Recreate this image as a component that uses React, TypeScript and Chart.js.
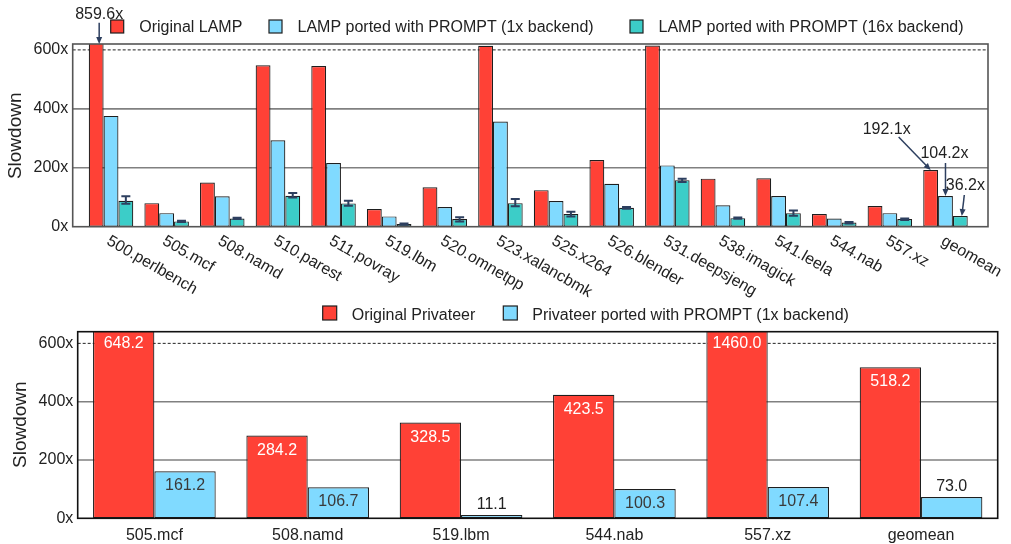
import React, { useEffect, useRef } from "react";
import { Chart, registerables } from "chart.js";

Chart.register(...registerables);

const FONT = "'Liberation Sans', Arial, Helvetica, sans-serif";
const RED = "#FF4136";
const BLUE = "#80DAFF";
const TEAL = "#3CCDC8";
const EDGE = "#1e1e1e";
const TEXT = "#222222";
const ERR = "#2d3f5f";

// ---------------- top chart data ----------------
const lampCategories = [
  "500.perlbench", "505.mcf", "508.namd", "510.parest", "511.povray", "519.lbm",
  "520.omnetpp", "523.xalancbmk", "525.x264", "526.blender", "531.deepsjeng",
  "538.imagick", "541.leela", "544.nab", "557.xz", "geomean",
];
const lampSeriesNames = [
  "Original LAMP",
  "LAMP ported with PROMPT (1x backend)",
  "LAMP ported with PROMPT (16x backend)",
];
const lampOriginal = [859.6, 80, 150, 548, 545, 60, 134, 614, 124, 226, 615, 163, 164, 43, 70, 192.1];
const lampPrompt1x = [376, 46, 103, 293, 216, 35, 67, 357, 87, 146, 208, 73, 104, 28, 46, 104.2];
const lampPrompt16x = [88, 18, 28, 105, 79, 9, 26, 80, 43, 64, 158, 29, 46, 14, 26, 36.2];
const lampErrLow = [78, 16, 26, 99, 71, 7, 18, 69, 35, 61, 152, 27, 37, 11, 23, null];
const lampErrHigh = [103, 20, 30, 114, 88, 11, 32, 94, 51, 67, 163, 31, 55, 16, 28, null];
const lampYTicks = [0, 200, 400, 600];
const lampYMax = 620;
const lampCallouts = [
  { dataset: 0, index: 0, text: "859.6x" },
  { dataset: 0, index: 15, text: "192.1x" },
  { dataset: 1, index: 15, text: "104.2x" },
  { dataset: 2, index: 15, text: "36.2x" },
];

// ---------------- bottom chart data ----------------
const privCategories = ["505.mcf", "508.namd", "519.lbm", "544.nab", "557.xz", "geomean"];
const privSeriesNames = ["Original Privateer", "Privateer ported with PROMPT (1x backend)"];
const privOriginal = [648.2, 284.2, 328.5, 423.5, 1460.0, 518.2];
const privPrompt1x = [161.2, 106.7, 11.1, 100.3, 107.4, 73.0];
const privYTicks = [0, 200, 400, 600];
const privYMax = 640;

// ---------------- layout (not data) ----------------
const calloutGeom = [
  { hx: 3, tx: 3, ty: -21.3, lx: 3, ly: -31 },
  { hx: 0, tx: -32, ty: -33, lx: -44, ly: -42.3 },
  { hx: 0, tx: 0, ty: -33, lx: -1, ly: -43.3 },
  { hx: 1.5, tx: 4, ty: -21, lx: 5, ly: -31.7 },
];

function drawGrid(chart: any, ticks: number[], left: number, right: number) {
  const ctx = chart.ctx;
  const y = chart.scales.y;
  ctx.save();
  ticks.forEach((t) => {
    if (t === 0) return;
    const py = y.getPixelForValue(t);
    ctx.beginPath();
    if (t === 600) {
      ctx.setLineDash([3, 2]);
      ctx.strokeStyle = "#222";
      ctx.lineWidth = 1;
    } else {
      ctx.setLineDash([]);
      ctx.strokeStyle = "#808080";
      ctx.lineWidth = 1.6;
    }
    ctx.moveTo(left, py);
    ctx.lineTo(right, py);
    ctx.stroke();
  });
  ctx.restore();
}

function drawFrame(chart: any, left: number, right: number, color: string) {
  const ctx = chart.ctx;
  const a = chart.chartArea;
  ctx.save();
  ctx.setLineDash([]);
  ctx.strokeStyle = color;
  ctx.lineWidth = 1.6;
  ctx.strokeRect(left, a.top, right - left, a.bottom - a.top);
  ctx.restore();
}

function drawLegend(
  chart: any, names: string[], colors: string[], xs: number[],
  boxY: number, size: number, textOff: number, baseline: number
) {
  const ctx = chart.ctx;
  ctx.save();
  ctx.font = `16px ${FONT}`;
  ctx.textAlign = "left";
  ctx.textBaseline = "alphabetic";
  names.forEach((n, i) => {
    ctx.fillStyle = colors[i];
    ctx.fillRect(xs[i], boxY, size, size);
    ctx.strokeStyle = EDGE;
    ctx.lineWidth = 1.2;
    ctx.strokeRect(xs[i], boxY, size, size);
    ctx.fillStyle = TEXT;
    ctx.fillText(n, xs[i] + textOff, baseline);
  });
  ctx.restore();
}

function drawYTitle(chart: any, text: string, baseX: number, cy: number) {
  const ctx = chart.ctx;
  ctx.save();
  ctx.translate(baseX, cy);
  ctx.rotate(-Math.PI / 2);
  ctx.font = `19px ${FONT}`;
  ctx.fillStyle = TEXT;
  ctx.textAlign = "center";
  ctx.textBaseline = "alphabetic";
  ctx.fillText(text, 0, 0);
  ctx.restore();
}

function drawArrow(ctx: any, x0: number, y0: number, x1: number, y1: number) {
  const ang = Math.atan2(y1 - y0, x1 - x0);
  const len = 7;
  const hw = 3;
  ctx.beginPath();
  ctx.moveTo(x0, y0);
  ctx.lineTo(x1 - Math.cos(ang) * len * 0.6, y1 - Math.sin(ang) * len * 0.6);
  ctx.stroke();
  ctx.beginPath();
  ctx.moveTo(x1, y1);
  ctx.lineTo(x1 - Math.cos(ang) * len + Math.sin(ang) * hw, y1 - Math.sin(ang) * len - Math.cos(ang) * hw);
  ctx.lineTo(x1 - Math.cos(ang) * len - Math.sin(ang) * hw, y1 - Math.sin(ang) * len + Math.cos(ang) * hw);
  ctx.closePath();
  ctx.fill();
}

const TOP_FRAME_L = 72.7;
const TOP_FRAME_R = 988;

const topPlugin = {
  id: "topDecor",
  beforeDatasetsDraw(chart: any) {
    drawGrid(chart, lampYTicks, TOP_FRAME_L, TOP_FRAME_R);
  },
  afterDatasetsDraw(chart: any) {
    const ctx = chart.ctx;
    const y = chart.scales.y;
    const meta = chart.getDatasetMeta(2);
    ctx.save();
    ctx.strokeStyle = ERR;
    ctx.lineWidth = 2;
    lampErrLow.forEach((lo, i) => {
      const hi = lampErrHigh[i];
      if (lo == null || hi == null) return;
      const bx = (meta.data[i] as any).x;
      const pl = y.getPixelForValue(lo);
      const ph = y.getPixelForValue(hi);
      ctx.beginPath();
      ctx.moveTo(bx, pl);
      ctx.lineTo(bx, ph);
      ctx.moveTo(bx - 4.5, pl);
      ctx.lineTo(bx + 4.5, pl);
      ctx.moveTo(bx - 4.5, ph);
      ctx.lineTo(bx + 4.5, ph);
      ctx.stroke();
    });
    ctx.restore();
  },
  afterDraw(chart: any) {
    const ctx = chart.ctx;
    const a = chart.chartArea;
    drawFrame(chart, TOP_FRAME_L, TOP_FRAME_R, "#555");
    // x labels rotated
    const x = chart.scales.x;
    ctx.save();
    ctx.font = `16px ${FONT}`;
    ctx.fillStyle = TEXT;
    lampCategories.forEach((c, i) => {
      const px = x.getPixelForValue(i);
      ctx.save();
      ctx.translate(px + 1, 233);
      ctx.rotate((30 * Math.PI) / 180);
      ctx.textAlign = "left";
      ctx.textBaseline = "top";
      ctx.fillText(c, 0, 0);
      ctx.restore();
    });
    ctx.restore();
    drawYTitle(chart, "Slowdown", 20.7, 135.8);
    drawLegend(chart, lampSeriesNames, [RED, BLUE, TEAL], [110.7, 269, 630], 20, 13, 28.5, 31.5);
    // callouts
    ctx.save();
    ctx.font = `16px ${FONT}`;
    ctx.strokeStyle = ERR;
    ctx.fillStyle = ERR;
    ctx.lineWidth = 1.5;
    lampCallouts.forEach((c, k) => {
      const g = calloutGeom[k];
      const bar = chart.getDatasetMeta(c.dataset).data[c.index] as any;
      const bx = bar.x;
      const by = Math.max(bar.y, a.top);
      ctx.strokeStyle = ERR;
      ctx.fillStyle = ERR;
      drawArrow(ctx, bx + g.tx, by + g.ty, bx + g.hx, by);
      ctx.fillStyle = TEXT;
      ctx.textAlign = "center";
      ctx.textBaseline = "alphabetic";
      ctx.fillText(c.text, bx + g.lx, by + g.ly + 5.8);
    });
    ctx.restore();
  },
};

const bottomPlugin = {
  id: "bottomDecor",
  beforeDatasetsDraw(chart: any) {
    const a = chart.chartArea;
    drawGrid(chart, privYTicks, a.left, a.right);
  },
  afterDatasetsDraw(chart: any) {
    const ctx = chart.ctx;
    const a = chart.chartArea;
    ctx.save();
    ctx.font = `16px ${FONT}`;
    ctx.textAlign = "center";
    ctx.textBaseline = "alphabetic";
    [privOriginal, privPrompt1x].forEach((vals, d) => {
      const meta = chart.getDatasetMeta(d);
      vals.forEach((v, i) => {
        const bar = meta.data[i] as any;
        let cy: number;
        let color: string;
        if (bar.y <= a.top) {
          cy = a.top + 10;
          color = d === 0 ? "#ffffff" : "#333";
        } else if (bar.base - bar.y > 25) {
          cy = bar.y + 13.3;
          color = d === 0 ? "#ffffff" : "#3a3a3a";
        } else {
          cy = bar.y - 12;
          color = TEXT;
        }
        ctx.fillStyle = color;
        ctx.fillText(v.toFixed(1), bar.x, cy + 5.8);
      });
    });
    ctx.restore();
  },
  afterDraw(chart: any) {
    const ctx = chart.ctx;
    const a = chart.chartArea;
    drawFrame(chart, a.left, a.right, "#111");
    const x = chart.scales.x;
    ctx.save();
    ctx.font = `16px ${FONT}`;
    ctx.fillStyle = TEXT;
    ctx.textAlign = "center";
    ctx.textBaseline = "alphabetic";
    privCategories.forEach((c, i) => {
      ctx.fillText(c, x.getPixelForValue(i), 240);
    });
    ctx.restore();
    drawYTitle(chart, "Slowdown", 26, 124.7);
    drawLegend(chart, privSeriesNames, [RED, BLUE], [322.7, 503.3], 6, 14, 29, 19.5);
  },
};

function barDataset(label: string, data: number[], color: string) {
  return {
    label,
    data,
    backgroundColor: color,
    borderColor: EDGE,
    borderWidth: 1.2,
    borderSkipped: false as const,
    categoryPercentage: 0.8,
    barPercentage: 1.0,
  };
}

function yAxis(max: number, ticks: number[], width: number, padding: number) {
  return {
    min: 0,
    max,
    afterBuildTicks: (s: any) => {
      s.ticks = ticks.map((v) => ({ value: v }));
    },
    afterFit: (s: any) => {
      s.width = width;
    },
    ticks: {
      callback: (v: any) => `${v}x`,
      font: { size: 16, family: FONT },
      color: TEXT,
      padding,
    },
    grid: { display: false, drawTicks: false },
    border: { display: false },
  };
}

export default function App() {
  const topRef = useRef<HTMLCanvasElement>(null);
  const botRef = useRef<HTMLCanvasElement>(null);

  useEffect(() => {
    const top = new Chart(topRef.current as HTMLCanvasElement, {
      type: "bar",
      data: {
        labels: lampCategories,
        datasets: [
          barDataset(lampSeriesNames[0], lampOriginal, RED),
          barDataset(lampSeriesNames[1], lampPrompt1x, BLUE),
          barDataset(lampSeriesNames[2], lampPrompt16x, TEAL),
        ],
      },
      options: {
        responsive: false,
        maintainAspectRatio: false,
        animation: false,
        layout: { padding: { left: 0, right: 37.7, top: 44, bottom: 73.3 } },
        plugins: { legend: { display: false }, tooltip: { enabled: false } },
        scales: {
          x: { display: false },
          y: yAxis(lampYMax, lampYTicks, 83.2, 15) as any,
        },
      },
      plugins: [topPlugin],
    });

    const bottom = new Chart(botRef.current as HTMLCanvasElement, {
      type: "bar",
      data: {
        labels: privCategories,
        datasets: [
          barDataset(privSeriesNames[0], privOriginal, RED),
          barDataset(privSeriesNames[1], privPrompt1x, BLUE),
        ],
      },
      options: {
        responsive: false,
        maintainAspectRatio: false,
        animation: false,
        layout: { padding: { left: 0, right: 13.3, top: 31.7, bottom: 25.7 } },
        plugins: { legend: { display: false }, tooltip: { enabled: false } },
        scales: {
          x: { display: false },
          y: yAxis(privYMax, privYTicks, 77.7, 4.4) as any,
        },
      },
      plugins: [bottomPlugin],
    });

    return () => {
      top.destroy();
      bottom.destroy();
    };
  }, []);

  return (
    <div style={{ position: "absolute", left: 0, top: 0, width: 1011, height: 544, background: "#fff" }}>
      <canvas
        ref={topRef}
        width={1011}
        height={300}
        style={{ position: "absolute", left: 0, top: 0, width: 1011, height: 300 }}
      />
      <canvas
        ref={botRef}
        width={1011}
        height={244}
        style={{ position: "absolute", left: 0, top: 300, width: 1011, height: 244 }}
      />
    </div>
  );
}
